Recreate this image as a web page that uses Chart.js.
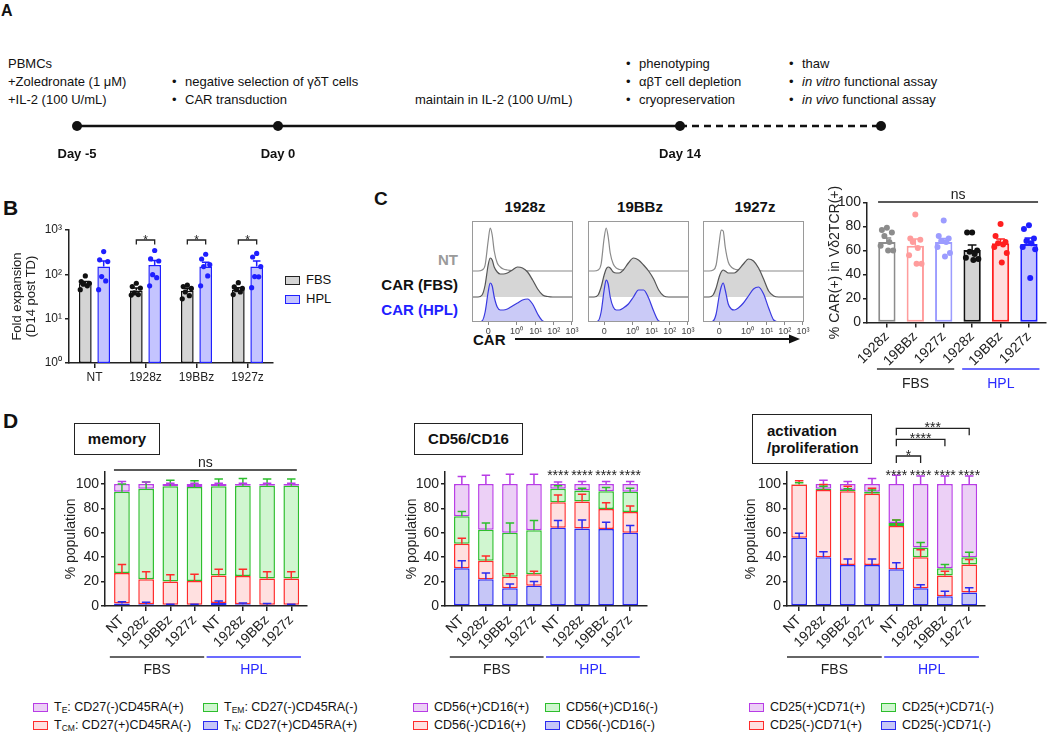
<!DOCTYPE html>
<html>
<head>
<meta charset="utf-8">
<title>CAR γδT cells</title>
<script src="https://cdn.jsdelivr.net/npm/chart.js@4.4.1/dist/chart.umd.min.js"></script>
<style>
  body { margin: 0; background: #fff; }
  #page { position: relative; width: 1050px; height: 733px; overflow: hidden; font-family: 'Liberation Sans', Arial, sans-serif; color: #111; }
  #page canvas { position: absolute; }
  .t { position: absolute; white-space: nowrap; font-size: 13px; line-height: 18px; }
  .bul { display: inline-block; width: 13px; }
  .pl { position: absolute; font-weight: bold; line-height: 1; }
  .hb { position: absolute; font-weight: bold; font-size: 15px; line-height: 18px; white-space: nowrap; }
  .ctr { transform: translateX(-50%); }
  .box { position: absolute; border: 1.5px solid #222; box-sizing: border-box; font-weight: bold; font-size: 15px; }
  .lg { position: absolute; white-space: nowrap; font-size: 12.5px; line-height: 16px; }
  .sw { display: inline-block; box-sizing: border-box; width: 15px; height: 9px; border: 1.5px solid; vertical-align: -1px; margin-right: 6px; }
  .lg sub { font-size: 8.5px; vertical-align: -2px; line-height: 0; }
</style>
</head>
<body>
<div id="page">
  <!-- panel A text -->
  <div class="pl" style="left:1px;top:3px;font-size:16px">A</div>
  <div class="t" style="left:8px;top:55px">PBMCs</div>
  <div class="t" style="left:8px;top:73px">+Zoledronate (1 μM)</div>
  <div class="t" style="left:8px;top:91px">+IL-2 (100 U/mL)</div>
  <div class="t" style="left:172px;top:73px"><span class="bul">•</span>negative selection of γδT cells</div>
  <div class="t" style="left:172px;top:91px"><span class="bul">•</span>CAR transduction</div>
  <div class="t" style="left:415px;top:91px">maintain in IL-2 (100 U/mL)</div>
  <div class="t" style="left:626px;top:55px"><span class="bul">•</span>phenotyping</div>
  <div class="t" style="left:626px;top:73px"><span class="bul">•</span>αβT cell depletion</div>
  <div class="t" style="left:626px;top:91px"><span class="bul">•</span>cryopreservation</div>
  <div class="t" style="left:789px;top:55px"><span class="bul">•</span>thaw</div>
  <div class="t" style="left:789px;top:73px"><span class="bul">•</span><i>in vitro</i> functional assay</div>
  <div class="t" style="left:789px;top:91px"><span class="bul">•</span><i>in vivo</i> functional assay</div>

  <!-- panel B -->
  <div class="pl" style="left:3px;top:197px;font-size:21px">B</div>
  <div class="lg" style="left:285px;top:272px;font-size:13px"><span class="sw" style="border-color:#222;background:#d4d4d4"></span>FBS</div>
  <div class="lg" style="left:285px;top:291px;font-size:13px"><span class="sw" style="border-color:#2020ff;background:#c4c4ff"></span>HPL</div>

  <!-- panel C -->
  <div class="pl" style="left:374px;top:189px;font-size:19px">C</div>
  <div class="hb ctr" style="left:525px;top:198px">1928z</div>
  <div class="hb ctr" style="left:640px;top:198px">19BBz</div>
  <div class="hb ctr" style="left:755px;top:198px">1927z</div>
  <div class="hb" style="right:592px;top:251px;color:#9a9a9a">NT</div>
  <div class="hb" style="right:592px;top:276px;color:#111">CAR (FBS)</div>
  <div class="hb" style="right:592px;top:301px;color:#2020ff">CAR (HPL)</div>
  <div class="hb" style="left:473px;top:331px">CAR</div>
  <svg style="position:absolute;left:510px;top:332px" width="295" height="14">
    <line x1="5" y1="7" x2="283" y2="7" stroke="#111" stroke-width="1.8"/>
    <polygon points="290,7 279,2.5 279,11.5" fill="#111"/>
  </svg>

  <!-- panel D -->
  <div class="pl" style="left:3px;top:410px;font-size:21px">D</div>
  <div class="box" style="left:74px;top:423px;width:86px;height:32px;line-height:29px;text-align:center">memory</div>
  <div class="box" style="left:414px;top:423px;width:109px;height:32px;line-height:29px;text-align:center">CD56/CD16</div>
  <div class="box" style="left:752px;top:414px;width:120px;height:50px;line-height:17px;padding:7px 0 0 14px">activation<br>/proliferation</div>
</div>

<script>
// ── DATA ──
// A: timeline stops
const timelineLabels = ['Day -5', 'Day 0', '', 'Day 14', ''];

// B: fold expansion (D14 post TD)
const bGroups = ['NT', '1928z', '19BBz', '1927z'];
const bTicks = [1, 10, 100, 1000];
const bFbsMean = [63, 43, 42.5, 45];
const bHplMean = [150, 163, 150, 150];
const bFbsErrHi = [69, 49, 48, 50];
const bHplErrHi = [200, 205, 188, 200];
const bFbsDots = [[92, 69, 63, 60, 55, 45], [63, 53, 49, 38, 35, 34], [57, 53, 48, 40, 33, 28], [65, 52, 48, 45, 40, 35]];
const bHplDots = [[326, 213, 194, 89, 71, 45], [345, 223, 200, 98, 84, 55], [284, 222, 165, 150, 92, 55], [296, 246, 150, 89, 88, 50]];
const bSig = ['', '*', '*', '*'];

// C: CAR histograms (counts on a biexponential channel axis)
const histX = [0, 6, 10, 13, 16, 18, 20, 22, 25, 28, 31, 35, 40, 45, 50, 55, 60, 65, 70, 75, 80, 90, 100];
const histTickPos = [16, 44, 63, 81, 99];
const histTickLabels = ['0', '10⁰', '10¹', '10²', '10³'];
const nt1928 =  [0, 0, 1, 6, 30, 43, 36, 20, 8, 4, 2, 1, 0.5, 0.5, 0.3, 0.2, 0, 0, 0, 0, 0, 0, 0];
const fbs1928 = [0, 0, 2, 12, 32, 39, 37, 30, 25, 23, 23, 24, 27, 30, 29, 25, 17, 8, 2, 0.5, 0, 0, 0];
const hpl1928 = [0, 0, 1, 10, 30, 39, 36, 25, 15, 12, 12, 13, 16, 19, 22, 23, 18, 8, 1, 0, 0, 0, 0];
const nt19BB =  [0, 0, 1, 7, 33, 43, 34, 18, 7, 3, 1.5, 1, 0.5, 0.5, 0.3, 0.2, 0, 0, 0, 0, 0, 0, 0];
const fbs19BB = [0, 0, 2, 10, 22, 28, 30, 29, 25, 24, 24, 27, 34, 39, 37, 32, 26, 18, 7, 1, 0, 0, 0];
const hpl19BB = [0, 0, 1, 10, 32, 42, 38, 25, 15, 12, 12, 14, 18, 25, 32, 32, 24, 11, 1, 0, 0, 0, 0];
const nt1927 =  [0, 0, 1, 6, 28, 41, 40, 24, 9, 4, 2, 1, 0.5, 0.5, 0.3, 0.2, 0, 0, 0, 0, 0, 0, 0];
const fbs1927 = [0, 0, 2, 9, 20, 25, 27, 26, 24, 24, 24, 27, 33, 38, 36, 29, 18, 6, 1, 0, 0, 0, 0];
const hpl1927 = [0, 0, 1, 8, 26, 35, 39, 32, 18, 13, 12, 14, 19, 26, 33, 35, 28, 14, 2, 0, 0, 0, 0];

// C: % CAR(+) in Vd2TCR(+)
const cLabels = ['1928z', '19BBz', '1927z', '1928z', '19BBz', '1927z'];
const cMean = [67, 64, 67, 60.5, 66, 65.5];
const cErrHi = [70.5, 69.5, 70, 64.5, 69.5, 70.5];
const cDots = [
  [79, 77, 75, 72, 67, 64, 60, 60],
  [90, 70, 69, 67, 62, 56, 49, 49],
  [85, 72, 70, 68, 67, 63, 58, 55],
  [75, 75, 60, 59, 57, 54, 53, 52],
  [82, 72, 67, 66, 65, 63, 58, 50],
  [81, 78, 70, 68, 66, 63, 61, 37]
];
const cTest = 'ns';
const media = ['FBS', 'HPL'];

// D: phenotype, % population (segments bottom -> top)
const dLabels = ['NT', '1928z', '19BBz', '1927z', 'NT', '1928z', '19BBz', '1927z'];
const dTicks = [0, 20, 40, 60, 80, 100];

const memTN  = [2, 1.5, 1, 1, 2.5, 1.5, 1, 1];
const memTCM = [25, 20.5, 19, 19.5, 22.5, 23, 21.5, 21.5];
const memTEM = [66.5, 74, 78, 77, 73, 74, 76, 76];
const memTE  = [6.5, 4, 2, 2.5, 2, 1.5, 1.5, 1.5];
const memTNErr  = [1.5, 1.5, 0.5, 0.5, 1.5, 1, 1, 0.5];
const memTCMErr = [7, 6, 5.5, 5.5, 5, 5.5, 5.5, 5.5];
const memTEMErr = [6.5, 5.5, 5, 5, 6, 6, 5.5, 5.5];
const memTEErr  = [2, 1.5, 0.5, 0.5, 0.5, 0.5, 0.5, 0.5];
const memLegend = ['T<sub>E</sub>: CD27(-)CD45RA(+)', 'T<sub>EM</sub>: CD27(-)CD45RA(-)', 'T<sub>CM</sub>: CD27(+)CD45RA(-)', 'T<sub>N</sub>: CD27(+)CD45RA(+)'];

const cdNN = [31, 22, 14.5, 16.5, 64, 63.5, 63, 60];
const cdNP = [20, 15, 9.5, 9.5, 21, 22, 16.5, 17];
const cdPN = [22.5, 25.5, 36, 36, 11, 9, 14.5, 16.5];
const cdPP = [26.5, 37.5, 40, 38, 4, 5.5, 6, 6.5];
const cdNNErr = [6, 5, 3.5, 3.5, 6, 7, 5.5, 6];
const cdNPErr = [4.5, 4, 2.5, 2.5, 6, 6, 5, 5];
const cdPNErr = [4, 5.5, 8, 8, 2.5, 2, 3, 3];
const cdPPErr = [6, 7, 8, 8, 1.5, 2, 2, 2];
const cdStars = ['', '', '', '', '****', '****', '****', '****'];
const cdLegend = ['CD56(+)CD16(+)', 'CD56(+)CD16(-)', 'CD56(-)CD16(+)', 'CD56(-)CD16(-)'];

const actNN = [56, 40, 33.5, 33.5, 30, 14.5, 8, 11];
const actNP = [43.5, 55, 60.5, 58.5, 35.5, 25.5, 17, 23];
const actPN = [0.5, 1, 1, 1.5, 2.5, 8, 6, 6];
const actPP = [0, 4, 5, 6.5, 32, 52, 69, 60];
const actNNErr = [3.5, 4.5, 5, 5, 5.5, 3, 4, 4];
const actNPErr = [3, 4.5, 4, 4.5, 5, 6, 3.5, 4];
const actPNErr = [1, 2, 1, 1.5, 2.5, 4, 3, 4];
const actPPErr = [0, 3, 2, 4.5, 7, 6.5, 6.5, 6.5];
const actStars = ['', '', '', '', '****', '****', '****', '****'];
const actCompare = [[4, 5, '*'], [4, 6, '****'], [4, 7, '***']];
const actLegend = ['CD25(+)CD71(+)', 'CD25(+)CD71(-)', 'CD25(-)CD71(+)', 'CD25(-)CD71(-)'];

// ── SETUP ──
const FONT = "'Liberation Sans', Arial, sans-serif";
Chart.defaults.font.family = FONT;
Chart.defaults.color = '#222';
const AX = '#222';
const SUP = ['⁰', '¹', '²', '³'];
const JIT = [0, -0.8, 0.8, -0.4, 0.4, -1, 1, 0.2];
const PUR = {line: '#b83ce6', fill: '#ecd0f6'};
const GRN = {line: '#2dbe2d', fill: '#d0f6d0'};
const RED = {line: '#ff2b2b', fill: '#ffe0e0'};
const BLU = {line: '#2b2bf0', fill: '#c6c6f7'};
const D_COLS = [BLU, RED, GRN, PUR];
const page = document.getElementById('page');

function mk(left, top, w, h) {
  const c = document.createElement('canvas');
  c.width = w; c.height = h;
  c.style.left = left + 'px'; c.style.top = top + 'px';
  c.style.width = w + 'px'; c.style.height = h + 'px';
  page.appendChild(c);
  return c;
}

function base(pad) {
  return {
    responsive: false, devicePixelRatio: 1, animation: false, events: [],
    layout: {padding: pad},
    plugins: {legend: {display: false}, tooltip: {enabled: false}}
  };
}

function yLin(width, max, title, titlePad) {
  return {
    type: 'linear', min: 0, max: max, stacked: true,
    afterFit: s => { s.width = width; },
    afterBuildTicks: s => { s.ticks = dTicks.map(v => ({value: v})); },
    border: {color: AX, width: 1.5},
    grid: {drawOnChartArea: false, color: AX, lineWidth: 1.5, tickLength: 4},
    ticks: {font: {size: 14}, padding: 2, color: '#222'},
    title: {display: true, text: title, font: {size: 14}, padding: {top: titlePad, bottom: 0}, color: '#222'}
  };
}

function xLin(labels, min, max, height) {
  return {
    type: 'linear', min: min, max: max, offset: false, stacked: true,
    afterFit: s => { s.height = height; },
    afterBuildTicks: s => { s.ticks = labels.map((_, i) => ({value: i + 1})); },
    border: {color: AX, width: 1.5},
    grid: {offset: false, drawOnChartArea: false, color: AX, lineWidth: 1.5, tickLength: 5},
    ticks: {autoSkip: false, minRotation: 45, maxRotation: 45, font: {size: 14}, padding: 1, color: '#222',
            callback: v => labels[v - 1]}
  };
}

function errBar(ctx, x, y0, y1, hw, col) {
  ctx.strokeStyle = col; ctx.lineWidth = 1.5;
  ctx.beginPath();
  ctx.moveTo(x, y0); ctx.lineTo(x, y1);
  ctx.moveTo(x - hw, y1); ctx.lineTo(x + hw, y1);
  ctx.stroke();
}

function stars(ctx, txt, x, yc, size) {
  ctx.font = size + 'px ' + FONT; ctx.fillStyle = '#222';
  ctx.textAlign = 'center'; ctx.textBaseline = 'alphabetic';
  ctx.fillText(txt, x, yc + size * 0.57);
}

function bracket(ctx, x0, x1, yl, drop) {
  ctx.strokeStyle = '#222'; ctx.lineWidth = 1.3;
  ctx.beginPath();
  ctx.moveTo(x0, yl + drop); ctx.lineTo(x0, yl); ctx.lineTo(x1, yl); ctx.lineTo(x1, yl + drop);
  ctx.stroke();
}

// FBS / HPL group lines under the category labels
function groups(ctx, x, n, yLine, yText, padL, padR) {
  const half = n / 2;
  media.forEach((m, g) => {
    const x0 = x.getPixelForValue(g * half + 1 - padL);
    const x1 = x.getPixelForValue((g + 1) * half + padR);
    const col = g ? '#2a2aff' : '#222';
    ctx.strokeStyle = g ? '#3a3aff' : '#333'; ctx.lineWidth = 1.6;
    ctx.beginPath(); ctx.moveTo(x0, yLine); ctx.lineTo(x1, yLine); ctx.stroke();
    ctx.font = '14px ' + FONT; ctx.fillStyle = col;
    ctx.textAlign = 'center'; ctx.textBaseline = 'middle';
    ctx.fillText(m, (x0 + x1) / 2, yText);
  });
}

// ── A: TIMELINE ──
new Chart(mk(0, 106, 1050, 55), {
  type: 'line',
  data: {
    labels: timelineLabels,
    datasets: [{
      data: timelineLabels.map(() => 0),
      borderColor: '#111', borderWidth: 2.5, clip: false,
      pointRadius: c => (c.dataIndex === 2 ? 0 : 5),
      pointBackgroundColor: '#111', pointBorderWidth: 0,
      segment: {borderDash: c => (c.p0DataIndex >= 3 ? [7, 5] : undefined)}
    }]
  },
  options: Object.assign(base({left: 77, right: 169, top: 10, bottom: 0}), {
    scales: {
      x: {afterFit: s => { s.height = 25; }, grid: {display: false}, border: {display: false},
          ticks: {autoSkip: false, maxRotation: 0, font: {size: 13, weight: 'bold'}, padding: 3, color: '#111'}},
      y: {display: false, min: -1, max: 1}
    }
  })
});

// ── B: FOLD EXPANSION ──
const bExtras = {
  id: 'bExtras',
  afterDraw(chart) {
    const {ctx, chartArea: a, scales: {y}} = chart;
    ctx.save();
    [[bFbsErrHi, bFbsDots, '#111'], [bHplErrHi, bHplDots, '#1f1fff']].forEach(([err, dots, col], d) => {
      chart.getDatasetMeta(d).data.forEach((bar, i) => {
        errBar(ctx, bar.x, bar.y, y.getPixelForValue(err[i]), bar.width * 0.3, col);
        ctx.fillStyle = col;
        dots[i].forEach((v, k) => {
          ctx.beginPath();
          ctx.arc(bar.x + JIT[k] * bar.width * 0.4, y.getPixelForValue(v), 2.6, 0, Math.PI * 2);
          ctx.fill();
        });
      });
    });
    const f = chart.getDatasetMeta(0).data, h = chart.getDatasetMeta(1).data;
    bSig.forEach((s, i) => {
      if (!s) return;
      const yl = a.top + 10;
      bracket(ctx, f[i].x, h[i].x, yl, 4.5);
      stars(ctx, s, (f[i].x + h[i].x) / 2, yl - 3, 12);
    });
    ctx.restore();
  }
};

new Chart(mk(0, 215, 285, 180), {
  type: 'bar',
  data: {
    labels: bGroups,
    datasets: [
      {data: bFbsMean, backgroundColor: '#d4d4d4', borderColor: '#111', borderWidth: 1.5, borderSkipped: false,
       categoryPercentage: 0.72, barPercentage: 0.69},
      {data: bHplMean, backgroundColor: '#c4c4ff', borderColor: '#1f1fff', borderWidth: 1.5, borderSkipped: false,
       categoryPercentage: 0.72, barPercentage: 0.69}
    ]
  },
  options: Object.assign(base({top: 15, right: 12, left: 0, bottom: 0}), {
    scales: {
      x: {offset: true, afterFit: s => { s.height = 32; },
          border: {color: AX, width: 1.5},
          grid: {offset: false, drawOnChartArea: false, color: AX, lineWidth: 1.5, tickLength: 5},
          ticks: {autoSkip: false, maxRotation: 0, font: {size: 12}, padding: 2, color: '#222'}},
      y: {type: 'logarithmic', min: 1, max: 1000,
          afterFit: s => { s.width = 69; },
          afterBuildTicks: s => { s.ticks = bTicks.map(v => ({value: v})); },
          border: {color: AX, width: 1.5},
          grid: {drawOnChartArea: false, color: AX, lineWidth: 1.5, tickLength: 4},
          ticks: {font: {size: 12}, padding: 3, color: '#222',
                  callback: v => '10' + SUP[Math.round(Math.log10(v))]},
          title: {display: true, text: ['Fold expansion', '(D14 post TD)'], color: '#222',
                  font: {size: 13, lineHeight: 1.1}, padding: {top: 10, bottom: 0}}}
    }
  }),
  plugins: [bExtras]
});

// ── C: HISTOGRAMS ──
const histBox = {
  id: 'histBox',
  afterDatasetsDraw(chart) {
    const {ctx, chartArea: a} = chart;
    ctx.save();
    ctx.strokeStyle = '#9a9a9a'; ctx.lineWidth = 1;
    ctx.strokeRect(a.left + 0.5, a.top + 0.5, a.width - 1, a.height - 1);
    ctx.restore();
  }
};

function histChart(x0, nt, fbs, hpl) {
  const pts = (arr, off) => arr.map((v, i) => ({x: histX[i], y: off + v}));
  new Chart(mk(x0 - 6, 214, 117, 126), {
    type: 'line',
    data: {
      datasets: [
        {data: pts(hpl, 0), borderColor: '#3a3ae0', backgroundColor: '#cacaf7', fill: {value: 0}},
        {data: pts(fbs, 25), borderColor: '#555', backgroundColor: '#d6d6d6', fill: {value: 25}},
        {data: pts(nt, 51), borderColor: '#8a8a8a', fill: false}
      ]
    },
    options: Object.assign(base({left: 6, right: 10, top: 7, bottom: 0}), {
      elements: {point: {radius: 0}, line: {borderWidth: 1.2, cubicInterpolationMode: 'monotone'}},
      scales: {
        x: {type: 'linear', min: 0, max: 100, afterFit: s => { s.height = 18; },
            afterBuildTicks: s => { s.ticks = histTickPos.map(v => ({value: v})); },
            border: {display: false},
            grid: {drawOnChartArea: false, color: '#888', tickLength: 3},
            ticks: {font: {size: 9}, padding: 1, color: '#444', callback: (v, i) => histTickLabels[i]}},
        y: {display: false, min: 0, max: 101}
      }
    }),
    plugins: [histBox]
  });
}
histChart(472, nt1928, fbs1928, hpl1928);
histChart(588, nt19BB, fbs19BB, hpl19BB);
histChart(703, nt1927, fbs1927, hpl1927);

// ── C: % CAR(+) ──
const cFill = ['#ffffff', '#ffffff', '#ffffff', '#d4d4d4', '#ffdede', '#c4c4ff'];
const cLine = ['#8c8c8c', '#ff9c9c', '#9c9cff', '#111111', '#ff1f1f', '#1f1fff'];
const cExtras = {
  id: 'cExtras',
  afterDraw(chart) {
    const {ctx, chartArea: a, scales: {x, y}} = chart;
    ctx.save();
    chart.getDatasetMeta(0).data.forEach((bar, i) => {
      errBar(ctx, bar.x, bar.y, y.getPixelForValue(cErrHi[i]), bar.width * 0.25, cLine[i]);
      ctx.fillStyle = cLine[i];
      cDots[i].forEach((v, k) => {
        ctx.beginPath();
        ctx.arc(bar.x + JIT[k] * bar.width * 0.36, y.getPixelForValue(v), 3, 0, Math.PI * 2);
        ctx.fill();
      });
    });
    const yl = a.top - 0.5, x0 = x.getPixelForValue(0.69), x1 = x.getPixelForValue(6.32);
    ctx.strokeStyle = '#222'; ctx.lineWidth = 1.5;
    ctx.beginPath(); ctx.moveTo(x0, yl); ctx.lineTo(x1, yl); ctx.stroke();
    ctx.font = '14px ' + FONT; ctx.fillStyle = '#222'; ctx.textAlign = 'center'; ctx.textBaseline = 'alphabetic';
    ctx.fillText(cTest, (x0 + x1) / 2, yl - 3);
    groups(ctx, x, cLabels.length, a.bottom + 46.5, a.bottom + 62, 0.35, 0.37);
    ctx.restore();
  }
};

new Chart(mk(790, 185, 260, 212), {
  type: 'bar',
  data: {
    datasets: [{
      data: cMean.map((v, i) => ({x: i + 1, y: v})),
      backgroundColor: cFill, borderColor: cLine, borderWidth: 2, borderSkipped: false,
      barPercentage: 0.61, categoryPercentage: 1
    }]
  },
  options: Object.assign(base({top: 17.5, right: 4, left: 0, bottom: 0}), {
    scales: {
      x: xLin(cLabels, 0.3, 6.6, 74.5),
      y: yLin(77, 100, '% CAR(+) in Vδ2TCR(+)', 37)
    }
  }),
  plugins: [cExtras]
});

// ── D: STACKED PHENOTYPE BARS ──
function stackChart(cfg) {
  const {left, yWidth, titlePad, padRight, xMin, xMax, segs, errs, extra} = cfg;
  const plug = {
    id: 'dExtras',
    afterDraw(chart) {
      const {ctx, chartArea: a, scales: {x, y}} = chart;
      ctx.save();
      segs.forEach((s, k) => {
        chart.getDatasetMeta(k).data.forEach((bar, i) => {
          const e = errs[k][i];
          if (!e) return;
          let top = 0;
          for (let j = 0; j <= k; j++) top += segs[j][i];
          errBar(ctx, bar.x, y.getPixelForValue(top), y.getPixelForValue(top + e), bar.width * 0.27, D_COLS[k].line);
        });
      });
      groups(ctx, x, dLabels.length, a.bottom + 51, a.bottom + 64, 0.5, 0.4);
      if (extra) extra(ctx, chart);
      ctx.restore();
    }
  };
  new Chart(mk(left, 405, 320, 280), {
    type: 'bar',
    data: {
      datasets: segs.map((s, k) => ({
        data: s.map((v, i) => ({x: i + 1, y: v})),
        backgroundColor: D_COLS[k].fill, borderColor: D_COLS[k].line,
        borderWidth: 1.5, borderSkipped: false,
        barPercentage: 0.65, categoryPercentage: 1
      }))
    },
    options: Object.assign(base({top: 66.7, right: padRight, left: 0, bottom: 0}), {
      scales: {
        x: xLin(dLabels, xMin, xMax, 79),
        y: yLin(yWidth, 110, '% population', titlePad)
      }
    }),
    plugins: [plug]
  });
}

function starRow(sig) {
  return (ctx, chart) => {
    const a = chart.chartArea;
    chart.getDatasetMeta(0).data.forEach((bar, i) => {
      if (sig[i]) stars(ctx, sig[i], bar.x, a.top, 14);
    });
  };
}

stackChart({
  left: 0, yWidth: 105, titlePad: 62.6, padRight: 13, xMin: 0.3, xMax: 8.65,
  segs: [memTN, memTCM, memTEM, memTE], errs: [memTNErr, memTCMErr, memTEMErr, memTEErr],
  extra: (ctx, chart) => {
    const {chartArea: a, scales: {x}} = chart;
    const yl = a.top - 1.7, x0 = x.getPixelForValue(0.67), x1 = x.getPixelForValue(8.23);
    ctx.strokeStyle = '#222'; ctx.lineWidth = 1.5;
    ctx.beginPath(); ctx.moveTo(x0, yl); ctx.lineTo(x1, yl); ctx.stroke();
    ctx.font = '14px ' + FONT; ctx.fillStyle = '#222'; ctx.textAlign = 'center'; ctx.textBaseline = 'alphabetic';
    ctx.fillText(cTest, (x0 + x1) / 2, yl - 3);
  }
});

stackChart({
  left: 340, yWidth: 105, titlePad: 64, padRight: 13, xMin: 0.3, xMax: 8.7,
  segs: [cdNN, cdNP, cdPN, cdPP], errs: [cdNNErr, cdNPErr, cdPNErr, cdPPErr],
  extra: starRow(cdStars)
});

stackChart({
  left: 680, yWidth: 107, titlePad: 62.4, padRight: 15, xMin: 0.5, xMax: 8.65,
  segs: [actNN, actNP, actPN, actPP], errs: [actNNErr, actNPErr, actPNErr, actPPErr],
  extra: (ctx, chart) => {
    starRow(actStars)(ctx, chart);
    const a = chart.chartArea, bars = chart.getDatasetMeta(0).data;
    const lvl = [15.7, 32.4, 43.4];
    actCompare.forEach(([i, j, s], k) => {
      const yl = a.top - lvl[k];
      bracket(ctx, bars[i].x, bars[j].x, yl, 7);
      stars(ctx, s, (bars[i].x + bars[j].x) / 2, yl - 4, 14);
    });
  }
});

// ── D: LEGENDS ──
function legend(labels, x1, x2) {
  const cols = [PUR, GRN, RED, BLU];
  labels.forEach((lab, k) => {
    const d = document.createElement('div');
    d.className = 'lg';
    d.style.left = (k % 2 ? x2 : x1) + 'px';
    d.style.top = (k < 2 ? 699 : 717) + 'px';
    d.innerHTML = '<span class="sw" style="border-color:' + cols[k].line + ';background:' + cols[k].fill + '"></span>' + lab;
    page.appendChild(d);
  });
}
legend(memLegend, 33, 203);
legend(cdLegend, 413, 545);
legend(actLegend, 749, 881);
</script>
</body>
</html>
